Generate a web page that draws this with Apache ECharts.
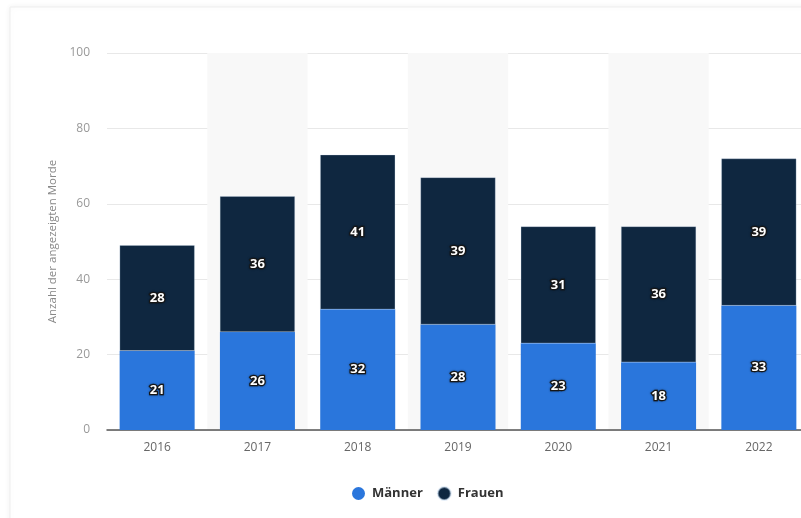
<!DOCTYPE html>
<html>
<head>
<meta charset="utf-8">
<script src="https://cdn.jsdelivr.net/npm/echarts@6/dist/echarts.min.js"></script>
<style>
  html, body { margin: 0; padding: 0; background: #ffffff; }
  #chart { width: 801px; height: 518px; }
</style>
</head>
<body>
<div id="chart"></div>
<script>
// Angezeigte Morde nach Geschlecht, 2016–2022
const years = ['2016', '2017', '2018', '2019', '2020', '2021', '2022'];
const maenner = [21, 26, 32, 28, 23, 18, 33];
const frauen = [28, 36, 41, 39, 31, 36, 39];
const yTicks = [0, 20, 40, 60, 80, 100];

const totals = maenner.map((v, i) => v + frauen[i]);

const insideLabel = {
  show: true,
  position: 'inside',
  color: '#ffffff',
  fontFamily: 'Open Sans, sans-serif',
  fontWeight: 'bold',
  fontSize: 13,
  textBorderColor: '#1a1a1a',
  textBorderWidth: 2.5,
  textShadowColor: 'rgba(0,0,0,0.5)',
  textShadowBlur: 2
};

const chart = echarts.init(document.getElementById('chart'), null, { renderer: 'canvas' });

chart.setOption({
  backgroundColor: '#ffffff',
  animation: false,
  graphic: [{
    type: 'rect',
    z: -10,
    shape: { x: 10, y: 7, width: 820, height: 540 },
    style: {
      fill: '#ffffff',
      stroke: '#eeeeee',
      lineWidth: 1,
      shadowColor: 'rgba(0,0,0,0.06)',
      shadowBlur: 6
    }
  }],
  // the plot runs slightly past the right edge of the canvas
  grid: { left: 107, width: 702, top: 53, height: 377, outerBoundsMode: 'none', containLabel: false },
  legend: {
    top: 481,
    left: 347,
    itemGap: 14,
    itemWidth: 13,
    itemHeight: 13,
    icon: 'circle',
    textStyle: {
      fontFamily: 'Open Sans, sans-serif',
      fontSize: 13,
      fontWeight: 'bold',
      color: '#333333',
      padding: [0, 0, 0, 2]
    },
    data: ['Männer', 'Frauen']
  },
  xAxis: {
    type: 'category',
    data: years,
    axisTick: { show: false },
    axisLine: { lineStyle: { color: '#555555', width: 1.5 } },
    axisLabel: { color: '#666666', fontFamily: 'Open Sans, sans-serif', fontSize: 12, margin: 12 },
    splitArea: { show: true, areaStyle: { color: ['rgba(0,0,0,0)', '#f8f8f8'] } }
  },
  yAxis: {
    type: 'value',
    min: yTicks[0],
    max: yTicks[yTicks.length - 1],
    interval: 20,
    name: 'Anzahl der angezeigten Morde',
    nameLocation: 'middle',
    nameGap: 37,
    nameTextStyle: { color: '#888888', fontFamily: 'Open Sans, sans-serif', fontSize: 11.5 },
    axisLine: { show: false },
    axisTick: { show: false },
    axisLabel: { color: '#999999', fontFamily: 'Open Sans, sans-serif', fontSize: 12, margin: 17 },
    splitLine: { lineStyle: { color: '#e8e8e8', width: 1 } }
  },
  series: [
    {
      name: 'Männer',
      type: 'bar',
      stack: 'gesamt',
      barWidth: 75,
      data: maenner,
      itemStyle: { color: '#2a76dc' },
      label: insideLabel
    },
    {
      name: 'Frauen',
      type: 'bar',
      stack: 'gesamt',
      barWidth: 75,
      data: frauen,
      itemStyle: { color: '#0f2740', borderColor: 'rgba(200,220,240,0.5)', borderWidth: 0.5 },
      label: insideLabel
    },
    {
      name: 'Gesamt',
      type: 'line',
      data: totals,
      symbol: 'none',
      lineStyle: { opacity: 0 },
      silent: true,
      z: 5,
      label: {
        show: true,
        position: 'top',
        distance: 4,
        color: '#666666',
        fontFamily: 'Open Sans, sans-serif',
        fontSize: 12
      }
    }
  ]
});
</script>
</body>
</html>
